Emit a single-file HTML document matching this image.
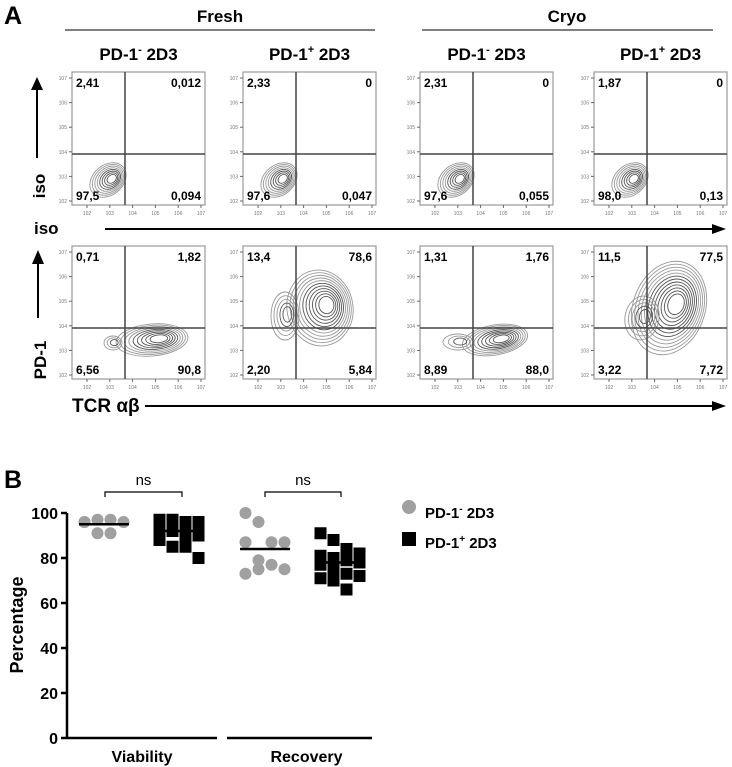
<!DOCTYPE html>
<html><head><meta charset="utf-8"><style>
body{margin:0;background:#fff;}
svg{display:block;font-family:"Liberation Sans",sans-serif;}
.b{font-weight:bold;}
</style></head><body>
<svg id="fig" width="732" height="767" viewBox="0 0 732 767">
<text x="4" y="24" font-size="25" class="b">A</text>
<text x="220" y="22" font-size="17" class="b" text-anchor="middle">Fresh</text>
<line x1="65" y1="30" x2="375" y2="30" stroke="#000"/>
<text x="567" y="22" font-size="17" class="b" text-anchor="middle">Cryo</text>
<line x1="422" y1="30" x2="713" y2="30" stroke="#000"/>
<g id="plots"></g>
<line x1="37" y1="158" x2="37" y2="88" stroke="#000" stroke-width="2"/>
<polygon points="31,90 43,90 37,77" fill="#000"/>
<text transform="translate(45,186) rotate(-90)" font-size="17" class="b" text-anchor="middle">iso</text>
<text x="34" y="234" font-size="17" class="b">iso</text>
<line x1="105" y1="229" x2="712" y2="229" stroke="#000" stroke-width="2"/>
<polygon points="712,224 726,229 712,234" fill="#000"/>
<line x1="38" y1="318" x2="38" y2="262" stroke="#000" stroke-width="2"/>
<polygon points="32,264 44,264 38,250" fill="#000"/>
<text transform="translate(46,360) rotate(-90)" font-size="17" class="b" text-anchor="middle">PD-1</text>
<text x="72" y="412" font-size="19" class="b">TCR αβ</text>
<line x1="145" y1="406" x2="712" y2="406" stroke="#000" stroke-width="2"/>
<polygon points="712,401 726,406 712,411" fill="#000"/>
<text x="4" y="488" font-size="25" class="b">B</text>
<g id="chartB"></g>
<circle cx="409" cy="507" r="7" fill="#a0a0a0"/>
<text x="425" y="518" font-size="15" class="b">PD-1<tspan dy="-6" font-size="10">-</tspan><tspan dy="6"> 2D3</tspan></text>
<rect x="402" y="532" width="14" height="14" fill="#000"/>
<text x="425" y="548" font-size="15" class="b">PD-1<tspan dy="-6" font-size="10">+</tspan><tspan dy="6"> 2D3</tspan></text>
</svg>
<script>
const NS="http://www.w3.org/2000/svg";
function mk(tag,attrs,parent){const e=document.createElementNS(NS,tag);for(const k in attrs)e.setAttribute(k,attrs[k]);parent.appendChild(e);return e;}
const plotTitles=["PD-1","PD-1","PD-1","PD-1"];
const plotSigns=["-","+","-","+"];
const quadRow1=[["2,41","0,012","97,5","0,094"],["2,33","0","97,6","0,047"],["2,31","0","97,6","0,055"],["1,87","0","98,0","0,13"]];
const quadRow2=[["0,71","1,82","6,56","90,8"],["13,4","78,6","2,20","5,84"],["1,31","1,76","8,89","88,0"],["11,5","77,5","3,22","7,72"]];
const colX=[72,243,420,594], rowY=[72,246], S=133;
const plots=document.getElementById('plots');
const blobs1=[[[36,108,20,15,-40,8]],[[36,108,20,15,-40,8]],[[36,108,20,15,-40,8]],[[36,108,20,15,-40,8]]];
const blobs2=[[[80,94,36,16,-5,9],[41,97,9,7,0,3]],[[77,62,33,38,-10,11],[42,70,14,24,0,5]],[[75,94,33,15,-10,9],[38,96,15,8,0,3]],[[75,62,36,48,20,12],[48,72,17,22,10,5]]];
function drawPlot(ci,ri,q,blobs){
  const x=colX[ci], y=rowY[ri];
  const g=mk('g',{},plots);
  
  
  const box=mk('rect',{x:x,y:y,width:S,height:S,fill:'none',stroke:'#999','stroke-width':1.2},g);
  
  blobs.forEach(b=>{for(let k=0;k<b[5];k++){const f=1-0.85*k/b[5];
    const ccx=x+b[0]+(1-f)*b[2]*0.25, ccy=y+b[1]-(1-f)*b[3]*0.1;
    mk('ellipse',{cx:ccx,cy:ccy,rx:b[2]*f,ry:b[3]*f,transform:`rotate(${b[4]} ${ccx} ${ccy})`,fill:'none',stroke:k>b[5]*0.4?'#555':'#999','stroke-width':0.9},g);}});
  const v=mk('line',{x1:x+53,y1:y,x2:x+53,y2:y+S,stroke:'#444','stroke-width':1.5},g);
  
  const h=mk('line',{x1:x,y1:y+82,x2:x+S,y2:y+82,stroke:'#444','stroke-width':1.5},g);
  
  const pos=[[x+4,y+15,'start'],[x+S-4,y+15,'end'],[x+4,y+S-5,'start'],[x+S-4,y+S-5,'end']];
  const qn=['q-upper-left','q-upper-right','q-lower-left','q-lower-right'];
  q.forEach((t,i)=>{const e=mk('text',{x:pos[i][0],y:pos[i][1],'text-anchor':pos[i][2],'font-size':12,'font-weight':'bold'},g);e.textContent=t;
    });
  const exps=['2','3','4','5','6','7'];
  exps.forEach((p,i)=>{const ty=y+S-i*(S-10)/5-4;
    mk('line',{x1:x-3,y1:ty,x2:x,y2:ty,stroke:'#666'},g);
    const t=mk('text',{x:x-5,y:ty+2,'text-anchor':'end','font-size':5,fill:'#777'},g);t.textContent='10'+p;
    const tx=x+15+i*(S-19)/5;
    mk('line',{x1:tx,y1:y+S,x2:tx,y2:y+S+3,stroke:'#666'},g);
    const t2=mk('text',{x:tx,y:y+S+10,'text-anchor':'middle','font-size':5,fill:'#777'},g);t2.textContent='10'+p;});
}
colX.forEach((cx,i)=>{
  const t=mk('text',{x:cx+S/2,y:60,'text-anchor':'middle','font-size':17,'font-weight':'bold'},document.getElementById('fig'));
  
  t.textContent=plotTitles[i];
  const s=mk('tspan',{dy:-7,'font-size':11},t);s.textContent=plotSigns[i];
  const s2=mk('tspan',{dy:7},t);s2.textContent=' 2D3';
  drawPlot(i,0,quadRow1[i],blobs1[i]);
  drawPlot(i,1,quadRow2[i],blobs2[i]);
});
const groups=["Viability","Recovery"];
const yTicks=[0,20,40,60,80,100];
const viabNeg=[96,97,97,96,96,91,91];
const viabPos=[97,97,96,96,95,95,94,93,93,92,90,90,88,85,85,80];
const recNeg=[100,96,87,87,87,79,77,75,73,75];
const recPos=[91,88,84,82,81,80,79,78,77,75,73,72,71,70,66];
const meanVals=[95,92,84,78];
const g=document.getElementById('chartB');
const y0=738, y100=513;
const yS=v=>y0-(y0-y100)*v/100;
const centers=[104,179,265,340];
mk('line',{x1:67,y1:y100,x2:67,y2:y0,stroke:'#000','stroke-width':2.5},g);
yTicks.forEach(t=>{const yy=yS(t);
  mk('line',{x1:61,y1:yy,x2:67,y2:yy,stroke:'#000','stroke-width':2.5},g);
  const e=mk('text',{x:58,y:yy+6,'text-anchor':'end','font-size':16,'font-weight':'bold'},g);e.textContent=t;
  });
const yt=mk('text',{transform:'translate(23,625) rotate(-90)','text-anchor':'middle','font-size':18,'font-weight':'bold'},g);
yt.textContent='Percentage';
[[67,217],[227,372]].forEach((r,i)=>{
  mk('line',{x1:r[0],y1:y0,x2:r[1],y2:y0,stroke:'#000','stroke-width':2.5},g);
  const e=mk('text',{x:(r[0]+r[1])/2+(i?7:0),y:762,'text-anchor':'middle','font-size':16,'font-weight':'bold'},g);e.textContent=groups[i];
  });
const series=[viabNeg,viabPos,recNeg,recPos];
series.forEach((vals,si)=>{
  const cx=centers[si], sq=si%2===1;
  vals.forEach((v,i)=>{const ox=((i%4)-1.5)*13;const yy=yS(v);
    let e;
    if(sq){e=mk('rect',{x:cx+ox-6,y:yy-6,width:12,height:12,fill:'#000'},g);}
    else{e=mk('circle',{cx:cx+ox,cy:yy,r:6,fill:'#a0a0a0'},g);}
    
    });
  const m=mk('line',{x1:cx-25,y1:yS(meanVals[si]),x2:cx+25,y2:yS(meanVals[si]),stroke:'#000','stroke-width':2.5},g);
  
});
[[105,182],[265,341]].forEach(b=>{
  const p=mk('path',{d:`M${b[0]} 497 V492 H${b[1]} V497`,fill:'none',stroke:'#000','stroke-width':1.2},g);
  
  const t=mk('text',{x:(b[0]+b[1])/2,y:485,'text-anchor':'middle','font-size':15},g);t.textContent='ns';
  });
</script>
</body></html>
